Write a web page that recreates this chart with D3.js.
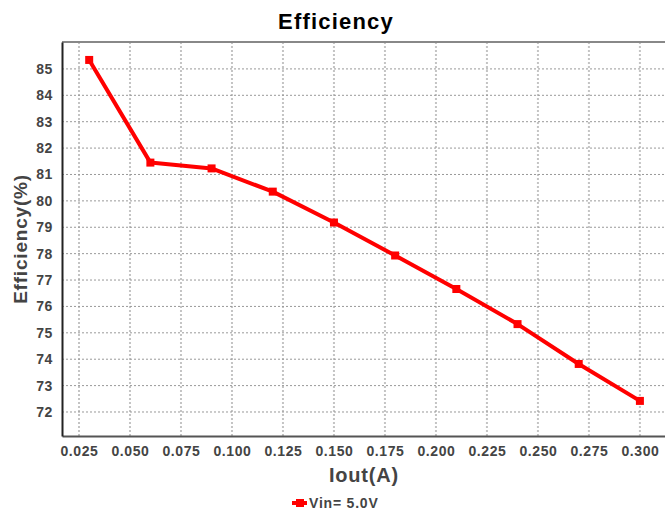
<!DOCTYPE html>
<html>
<head>
<meta charset="utf-8">
<script src="https://cdn.jsdelivr.net/npm/d3@7"></script>
<style>
  body { margin: 0; background: #fff; }
  svg { font-family: "Liberation Sans", Arial, sans-serif; }
</style>
</head>
<body>
<div id="chart"></div>
<script>
// chart data
const iout = [0.03, 0.06, 0.09, 0.12, 0.15, 0.18, 0.21, 0.24, 0.27, 0.30];
const efficiency = [85.34, 81.45, 81.23, 80.35, 79.18, 77.93, 76.66, 75.33, 73.82, 72.42];
const xTicks = [0.025, 0.05, 0.075, 0.1, 0.125, 0.15, 0.175, 0.2, 0.225, 0.25, 0.275, 0.3];
const yTicks = [72, 73, 74, 75, 76, 77, 78, 79, 80, 81, 82, 83, 84, 85];
const seriesName = "Vin= 5.0V";

const width = 665, height = 511;
const margin = { top: 42, right: 0, bottom: 75, left: 62 };

const svg = d3.select("#chart")
  .append("svg")
  .attr("width", width)
  .attr("height", height);

const x = d3.scaleLinear()
  .domain([0.01667, 0.3123])
  .range([margin.left, width - margin.right]);

const y = d3.scaleLinear()
  .domain([71.09, 86.02])
  .range([height - margin.bottom, margin.top]);

// vertical grid
svg.append("g")
  .selectAll("line")
  .data(xTicks)
  .join("line")
    .attr("x1", d => x(d)).attr("x2", d => x(d))
    .attr("y1", margin.top).attr("y2", height - margin.bottom)
    .attr("stroke", "#c4c4c4")
    .attr("stroke-width", 2)
    .attr("stroke-dasharray", "2,2");

// horizontal grid
svg.append("g")
  .selectAll("line")
  .data(yTicks)
  .join("line")
    .attr("x1", margin.left).attr("x2", width - margin.right)
    .attr("y1", d => y(d)).attr("y2", d => y(d))
    .attr("stroke", "#999")
    .attr("stroke-width", 1)
    .attr("stroke-dasharray", "2,2");

// top border
svg.append("line")
  .attr("x1", margin.left).attr("x2", width)
  .attr("y1", margin.top).attr("y2", margin.top)
  .attr("stroke", "#888").attr("stroke-width", 2);

const styleTicks = g => g.selectAll("text")
  .attr("font-size", "14px").attr("font-weight", "bold")
  .attr("fill", "#444").attr("letter-spacing", "0.6px")
  .attr("font-family", "Liberation Sans, Arial, sans-serif");

// axes
svg.append("g")
  .attr("transform", `translate(0,${height - margin.bottom})`)
  .call(d3.axisBottom(x).tickValues(xTicks).tickFormat(d3.format(".3f")).tickSize(0).tickPadding(10))
  .call(g => g.select(".domain").attr("stroke", "#555").attr("stroke-width", 2))
  .call(styleTicks);

svg.append("g")
  .attr("transform", `translate(${margin.left},0)`)
  .call(d3.axisLeft(y).tickValues(yTicks).tickSize(0).tickPadding(9))
  .call(g => g.select(".domain").attr("stroke", "#222").attr("stroke-width", 2))
  .call(styleTicks);

// line + markers
const line = d3.line()
  .x((d, i) => x(iout[i]))
  .y(d => y(d));

svg.append("path")
  .datum(efficiency)
  .attr("fill", "none")
  .attr("stroke", "#ff0000")
  .attr("stroke-width", 4)
  .attr("stroke-linejoin", "round")
  .attr("d", line);

svg.append("g")
  .selectAll("rect")
  .data(efficiency)
  .join("rect")
    .attr("x", (d, i) => x(iout[i]) - 4)
    .attr("y", d => y(d) - 4)
    .attr("width", 8)
    .attr("height", 8)
    .attr("fill", "#ff0000");

// titles
svg.append("text")
  .attr("x", 336).attr("y", 29)
  .attr("text-anchor", "middle")
  .attr("font-size", "22px").attr("font-weight", "bold")
  .attr("letter-spacing", "1.2px")
  .attr("fill", "#000")
  .text("Efficiency");

svg.append("text")
  .attr("x", 364).attr("y", 482)
  .attr("text-anchor", "middle")
  .attr("font-size", "20px").attr("font-weight", "bold")
  .attr("letter-spacing", "0.8px")
  .attr("fill", "#444")
  .text("Iout(A)");

svg.append("text")
  .attr("transform", "translate(27,239) rotate(-90)")
  .attr("text-anchor", "middle")
  .attr("font-size", "19px").attr("font-weight", "bold")
  .attr("letter-spacing", "0.8px")
  .attr("fill", "#444")
  .text("Efficiency(%)");

// legend
const legend = svg.append("g").attr("transform", "translate(292,503)");
legend.append("line")
  .attr("x1", 0).attr("x2", 15).attr("y1", 0).attr("y2", 0)
  .attr("stroke", "#ff0000").attr("stroke-width", 4);
legend.append("rect")
  .attr("x", 4).attr("y", -4).attr("width", 8).attr("height", 8)
  .attr("fill", "#ff0000");
legend.append("text")
  .attr("x", 17).attr("y", 5)
  .attr("font-size", "14px").attr("font-weight", "bold")
  .attr("letter-spacing", "0.8px")
  .attr("fill", "#444")
  .text(seriesName);
</script>
</body>
</html>
